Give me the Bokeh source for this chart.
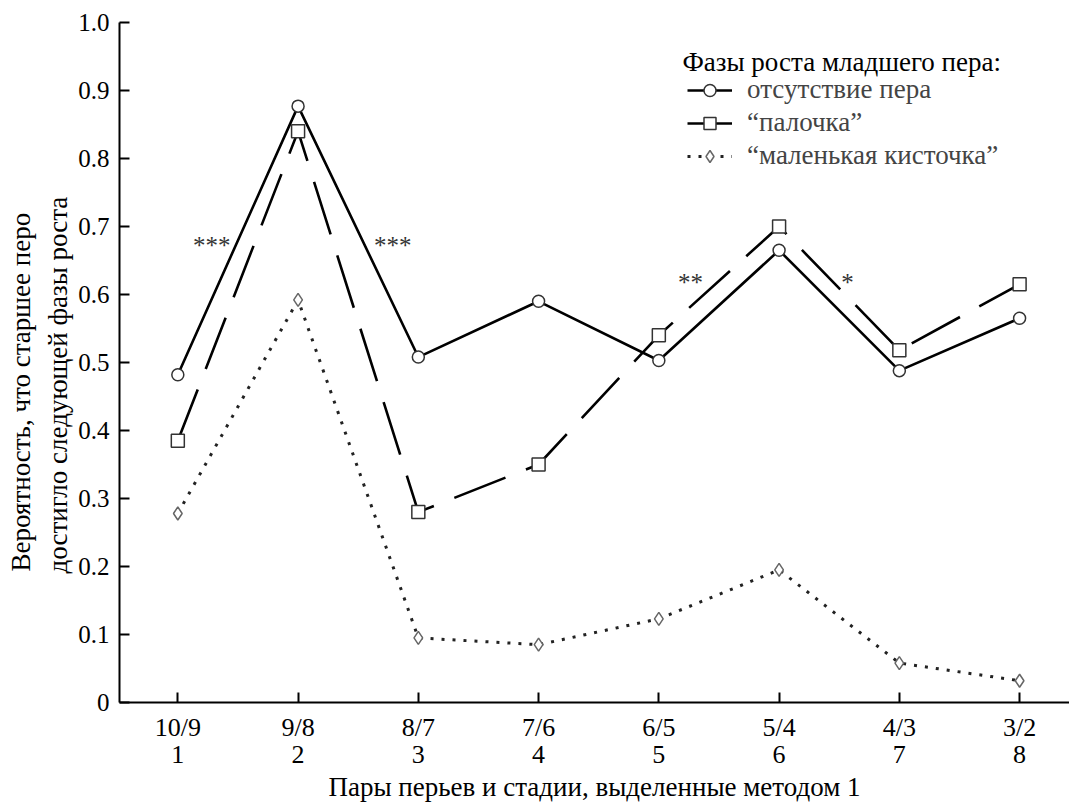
from bokeh.plotting import figure
from bokeh.models import Range1d, FixedTicker, Legend, LegendItem, Label, Title
from bokeh.embed import file_html
from bokeh.resources import INLINE

# Feather pairs (older/younger) and stage numbers along the x axis
positions = [1, 2, 3, 4, 5, 6, 7, 8]
pairs = ["10/9", "9/8", "8/7", "7/6", "6/5", "5/4", "4/3", "3/2"]
stages = ["1", "2", "3", "4", "5", "6", "7", "8"]

# Probability that the older feather reached the next growth phase,
# by growth phase of the younger feather
no_feather = [0.482, 0.877, 0.508, 0.590, 0.503, 0.665, 0.488, 0.565]
stick = [0.385, 0.840, 0.280, 0.350, 0.540, 0.700, 0.518, 0.615]
small_brush = [0.278, 0.592, 0.095, 0.085, 0.123, 0.195, 0.058, 0.032]

# Significance marks between neighbouring pairs
sig_x = [1.283, 2.787, 5.264, 6.569]
sig_y = [0.672, 0.672, 0.617, 0.617]
sig_text = ["***", "***", "**", "*"]

y_ticks = [0, 0.1, 0.2, 0.3, 0.4, 0.5, 0.6, 0.7, 0.8, 0.9, 1.0]
y_labels = ["0", "0.1", "0.2", "0.3", "0.4", "0.5", "0.6", "0.7", "0.8", "0.9", "1.0"]

x_title = "Пары перьев и стадии, выделенные методом 1"
y_title = ["Вероятность, что старшее перо", "достигло следующей фазы роста"]
legend_title = "Фазы роста младшего пера:"

FONT = "Liberation Serif"

p = figure(width=1069, height=805, x_range=Range1d(0.515, 8.415), y_range=Range1d(0, 1.0),
           output_backend="svg", toolbar_location=None,
           min_border_left=119, min_border_right=0, min_border_top=22, min_border_bottom=101)
p.outline_line_color = None
p.xgrid.visible = False
p.ygrid.visible = False
p.background_fill_color = "white"
p.border_fill_color = "white"

# Lines
l1 = p.line(positions, no_feather, line_color="black", line_width=2.6)
l2 = p.line(positions, stick, line_color="black", line_width=2.6, line_dash="55 22")
l3 = p.line(positions, small_brush, line_color="#222222", line_width=3, line_dash="3 8")

# Markers
m1 = p.scatter(positions, no_feather, marker="circle", size=12, fill_color="white",
               line_color="#333333", line_width=1.5)
m2 = p.scatter(positions, stick, marker="square", size=13, fill_color="white",
               line_color="#333333", line_width=1.5)
m3 = p.scatter(positions, small_brush, marker="diamond", size=13, fill_color="white",
               line_color="#666666", line_width=1.5)

for xv, yv, t in zip(sig_x, sig_y, sig_text):
    p.add_layout(Label(x=xv, y=yv, text=t, text_font=FONT, text_font_size="25px",
                       text_color="#333333", text_align="center", text_baseline="middle"))

# Axes
for ax in (p.xaxis[0], p.yaxis[0]):
    ax.axis_line_width = 2
    ax.axis_line_color = "black"
    ax.major_tick_line_width = 2
    ax.major_tick_line_color = "black"
    ax.major_tick_in = 10
    ax.major_tick_out = 0
    ax.minor_tick_line_color = None
    ax.major_label_text_font = FONT
    ax.major_label_text_color = "black"

p.xaxis.ticker = FixedTicker(ticks=positions)
p.xaxis.major_label_overrides = {pos: f"{a}\n{b}" for pos, a, b in zip(positions, pairs, stages)}
p.xaxis.major_label_text_font_size = "26px"
p.xaxis.major_label_text_line_height = 0.95
p.xaxis.major_label_standoff = 10
p.xaxis.axis_label = x_title
p.xaxis.axis_label_text_font = FONT
p.xaxis.axis_label_text_font_size = "27px"
p.xaxis.axis_label_text_font_style = "normal"
p.xaxis.axis_label_text_color = "black"
p.xaxis.axis_label_text_line_height = 0.7
p.xaxis.axis_label_standoff = 0

p.yaxis.ticker = FixedTicker(ticks=y_ticks)
p.yaxis.major_label_overrides = {t: s for t, s in zip(y_ticks, y_labels)}
p.yaxis.major_label_text_font_size = "25px"
p.yaxis.major_label_standoff = 10

# Two-line vertical axis title, stacked outward from the axis;
# each line starts a fixed distance above the bottom of the frame
for t, off, so in zip(reversed(y_title), [129, 131], [6, 4]):
    p.add_layout(Title(text=t, align="left", offset=off, standoff=so,
                       text_font=FONT, text_font_size="27px", text_font_style="normal",
                       text_color="black"), "left")

# Legend: title as a separate label, entries below it slightly indented
p.add_layout(Label(x=563, y=641, x_units="screen", y_units="screen",
                   text=legend_title, text_font=FONT, text_font_size="27px",
                   text_color="black", text_baseline="middle"))

legend = Legend(items=[
    LegendItem(label="отсутствие пера", renderers=[l1, m1]),
    LegendItem(label="“палочка”", renderers=[l2, m2]),
    LegendItem(label="“маленькая кисточка”", renderers=[l3, m3]),
], location=(568, 531))
legend.label_text_font = FONT
legend.label_text_font_size = "27px"
legend.border_line_color = None
legend.background_fill_alpha = 0
legend.glyph_width = 45
legend.glyph_height = 30
legend.label_height = 30
legend.spacing = 2
legend.padding = 0
legend.margin = 0
legend.label_standoff = 15
p.add_layout(legend)

open("out.html", "w").write(file_html(p, INLINE))
